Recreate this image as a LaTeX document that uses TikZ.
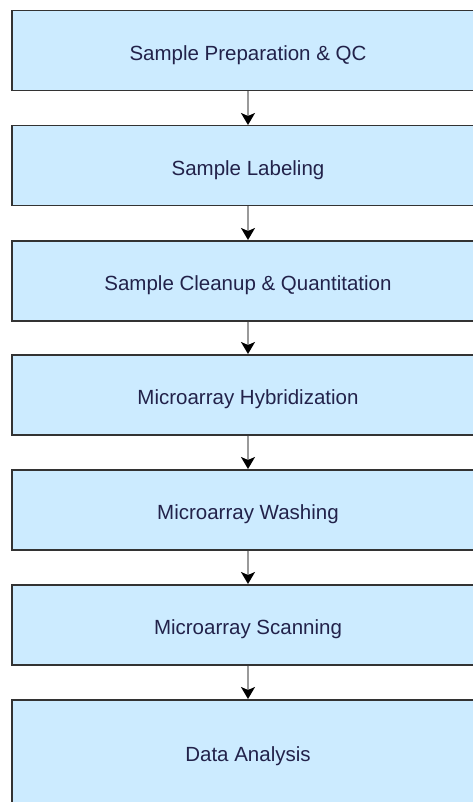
\documentclass[tikz,border=0pt]{standalone}
\usepackage{fontspec}
\setmainfont{Liberation Sans}
\usetikzlibrary{arrows.meta}
\definecolor{boxfill}{HTML}{CCEBFF}
\definecolor{boxline}{HTML}{333333}
\definecolor{txt}{HTML}{22224A}
\definecolor{shaft}{HTML}{9A9A9A}
\begin{document}
\begin{tikzpicture}[x=1pt,y=-1pt,
  stepbox/.style={draw=boxline,line width=1.5pt,fill=boxfill,minimum width=472pt,minimum height=80pt,
    inner sep=0pt,font=\fontsize{20.5}{24}\selectfont,text=txt,text height=20pt,text depth=0pt,anchor=north},
  steptext/.style={inner sep=0pt,font=\fontsize{20.5}{24}\selectfont,text=txt,text height=20pt,text depth=0pt},
  flow/.style={draw=shaft,line width=1.8pt,-{Stealth[length=12pt,width=14pt,inset=3pt,color=black]}}]
\useasboundingbox (0,0) rectangle (472,802);
\node[stepbox] (s1) at (248,10) {Sample Preparation \& QC};
\node[stepbox] (s2) at (248,125) {Sample Labeling};
\node[stepbox] (s3) at (248,240) {Sample Cleanup \& Quantitation};
\node[stepbox] (s4) at (248,354) {Microarray Hybridization};
\node[stepbox] (s5) at (248,469) {Microarray Washing};
\node[stepbox] (s6) at (248,584) {Microarray Scanning};
\node[stepbox,minimum height=103pt] (s7) at (248,699) {};
\node[steptext] (t7) at (s7.center) {Data Analysis};
\foreach \a/\b in {s1/s2,s2/s3,s3/s4,s4/s5,s5/s6,s6/s7}
  \draw[flow] (\a.south) -- (\b.north);
\end{tikzpicture}
\end{document}
